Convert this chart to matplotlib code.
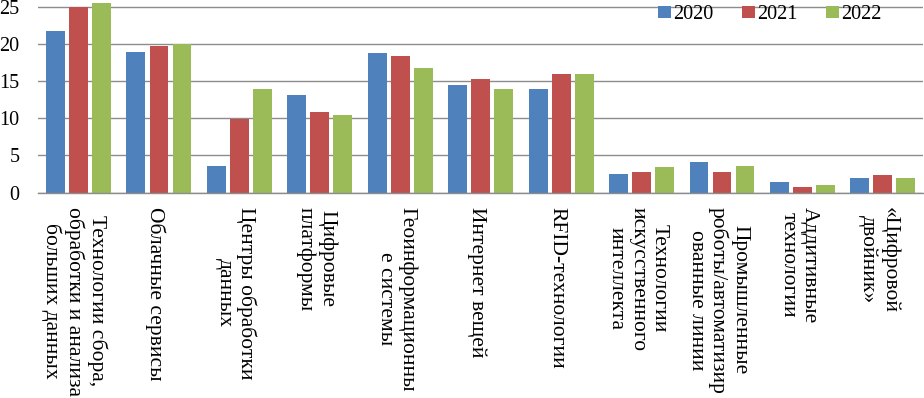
import numpy as np
import matplotlib
matplotlib.use("Agg")
import matplotlib.pyplot as plt
from matplotlib.transforms import ScaledTranslation

plt.rcParams['font.family'] = ['Liberation Serif', 'DejaVu Serif']

# категории (подписи оси X)
categories = [
    "Технологии сбора,\nобработки и анализа\nбольших данных",
    "Облачные сервисы",
    "Центры обработки\nданных",
    "Цифровые\nплатформы",
    "Геоинформационны\nе системы",
    "Интернет вещей",
    "RFID-технологии",
    "Технологии\nискусственного\nинтеллекта",
    "Промышленные\nроботы/автоматизир\nованные линии",
    "Аддитивные\nтехнологии",
    "«Цифровой\nдвойник»",
]

# значения по годам
vals_2020 = [21.7, 18.9, 3.6, 13.1, 18.8, 14.5, 13.9, 2.5, 4.1, 1.4, 2.0]
vals_2021 = [25.0, 19.7, 9.9, 10.8, 18.4, 15.3, 15.9, 2.8, 2.8, 0.8, 2.4]
vals_2022 = [25.5, 20.0, 13.9, 10.5, 16.8, 13.9, 15.9, 3.4, 3.6, 1.0, 2.0]

years = ["2020", "2021", "2022"]
colors = ["#4F81BD", "#C0504D", "#9BBB59"]

fig = plt.figure(figsize=(9.24, 3.98), dpi=100)
ax = fig.add_axes([0.0415, 0.516, 0.9575, 0.484])

x = np.arange(len(categories))
step = 0.286
width = 0.236
for i, (vals, yr, c) in enumerate(zip([vals_2020, vals_2021, vals_2022], years, colors)):
    ax.bar(x + (i - 1) * step, vals, width=width, color=c, label=yr, zorder=3)

ax.set_xlim(-0.5, len(categories) - 0.5)
ax.set_ylim(0, 25.9)
ax.set_yticks([0, 5, 10, 15, 20, 25])
ax.yaxis.grid(True, color="#8c8c8c", linewidth=1.0, zorder=0)

for s in ["top", "right", "left"]:
    ax.spines[s].set_visible(False)
ax.spines["bottom"].set_color("#8c8c8c")
ax.spines["bottom"].set_linewidth(1.0)
ax.spines["bottom"].set_zorder(4)

ax.tick_params(axis="y", length=0, pad=13.5, labelsize=14.5)
ax.tick_params(axis="x", length=0, pad=10)
ax.set_xticks(x)
ax.set_xticklabels(categories, rotation=-90, ha="center", va="top",
                   multialignment="center", fontsize=15.5, linespacing=1.15)

# сдвиг подписей чуть влево, как в оригинале
shift = ScaledTranslation(-4 / 100, 0, fig.dpi_scale_trans)
for lbl in ax.get_xticklabels():
    lbl.set_transform(lbl.get_transform() + shift)

ax.legend(loc="upper right", bbox_to_anchor=(0.962, 1.015), ncol=3, frameon=False,
          fontsize=14.5, handlelength=0.65, handleheight=0.5,
          handletextpad=0.08, columnspacing=1.44, borderaxespad=0)

plt.savefig("out.png", dpi=100)
